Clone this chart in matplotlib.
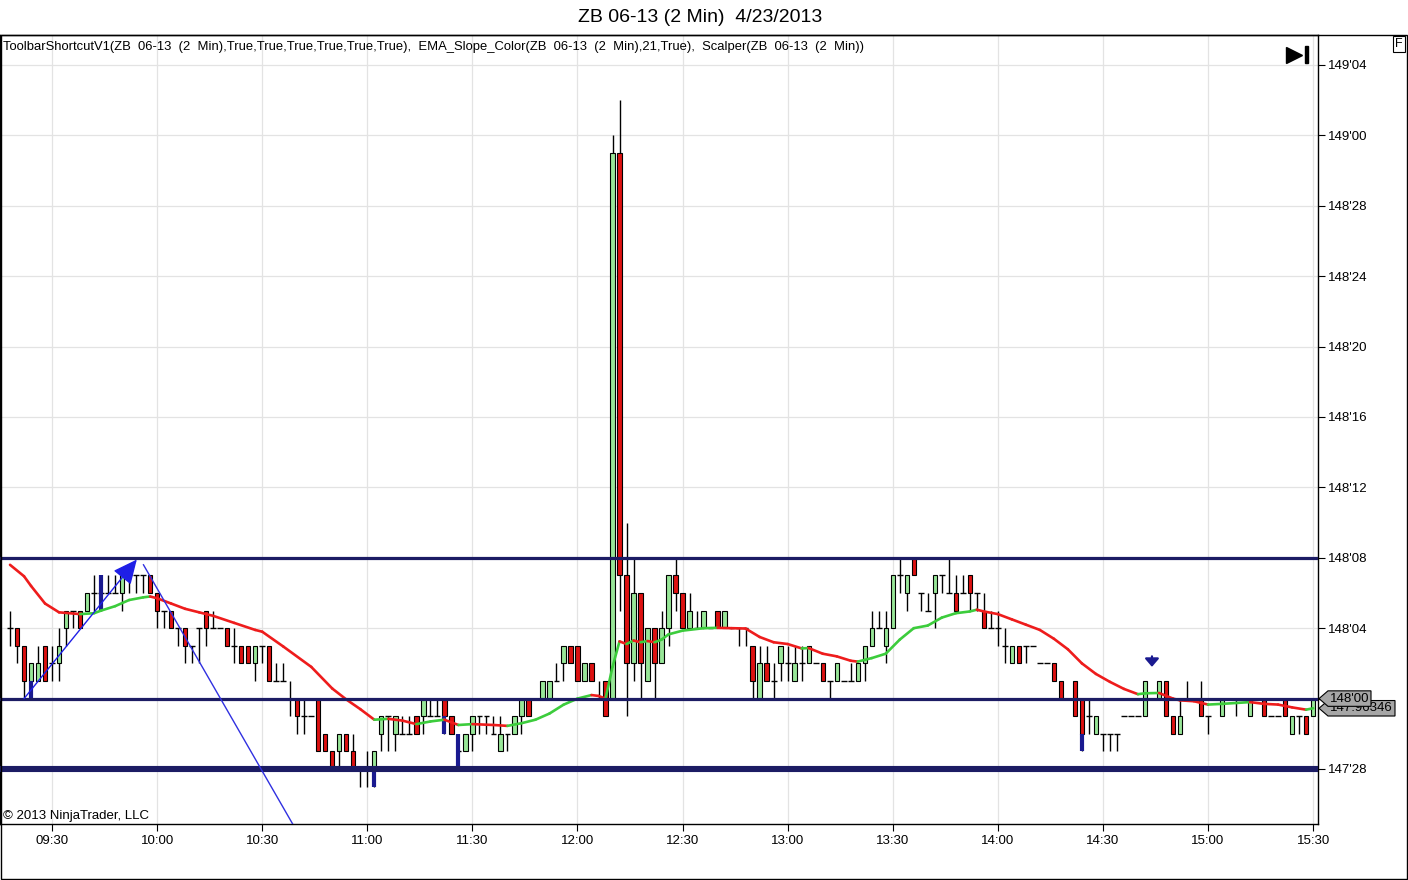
import matplotlib
matplotlib.use("Agg")
import matplotlib.pyplot as plt
from matplotlib.patches import Rectangle, Polygon
from matplotlib.transforms import blended_transform_factory
import numpy as np

plt.rcParams['font.family'] = ['Liberation Sans', 'DejaVu Sans']

# prices are in 32nds above 147'00  (32 -> 148'00)
opens = [36, 36, 35, 33, 33, 35, 34, 34, 36, 37, 37, 37, 38, 38, 38, 38, 38, 39, 39, 39,
         39, 38, 37, 37, 36, 36, 35, 36, 37, 36, 36, 36, 35, 35, 35, 34, 35, 35, 33, 33,
         32, 32, 31, 31, 32, 30, 29, 29, 30, 29, 28, 28, 28, 30, 31, 30, 30, 30, 31, 31,
         31, 31, 32, 31, 29, 29, 30, 31, 31, 30, 29, 30, 30, 31, 32, 32, 32, 32, 33, 34,
         35, 35, 33, 34, 32, 33, 32, 63, 39, 34, 38, 33, 36, 34, 36, 39, 38, 36, 36, 36,
         36, 37, 36, 36, 36, 36, 35, 32, 34, 33, 34, 34, 33, 34, 34, 34, 34, 33, 33, 33,
         33, 33, 34, 35, 36, 35, 36, 39, 38, 40, 38, 37, 38, 39, 38, 38, 38, 39, 38, 37,
         36, 36, 35, 34, 35, 35, 35, 34, 34, 34, 33, 32, 33, 32, 31, 30, 30, 30, 30, 31,
         31, 31, 31, 32, 32, 33, 31, 30, 32, 32, 32, 31, 32, 31, 32, 32, 32, 31, 32, 32,
         31, 31, 32, 30, 31, 31, 31]
highs = [37, 36, 35, 34, 35, 35, 35, 36, 37, 37, 37, 38, 39, 39, 39, 39, 39, 39, 39, 39,
         39, 38, 37, 37, 36, 36, 35, 36, 37, 37, 36, 36, 36, 35, 35, 35, 35, 35, 34, 34,
         33, 32, 32, 31, 32, 30, 29, 30, 30, 30, 28, 29, 29, 31, 31, 31, 31, 31, 31, 32,
         32, 32, 32, 31, 30, 30, 31, 31, 31, 31, 31, 30, 31, 32, 32, 32, 33, 33, 34, 35,
         35, 35, 34, 34, 33, 33, 64, 66, 42, 40, 38, 36, 36, 37, 39, 40, 38, 38, 37, 37,
         36, 37, 37, 36, 36, 36, 35, 35, 35, 34, 35, 35, 35, 35, 35, 34, 34, 33, 34, 33,
         34, 34, 35, 37, 37, 37, 39, 40, 39, 40, 38, 38, 39, 39, 40, 39, 39, 39, 38, 38,
         37, 37, 36, 35, 35, 35, 35, 34, 34, 34, 33, 32, 33, 32, 32, 31, 30, 30, 30, 31,
         31, 31, 33, 32, 33, 33, 31, 32, 33, 32, 33, 31, 32, 32, 32, 32, 32, 32, 32, 31,
         31, 31, 32, 31, 31, 31, 32]
lows = [35, 34, 32, 32, 33, 33, 33, 33, 35, 36, 36, 37, 37, 37, 38, 38, 37, 38, 38, 38,
        38, 36, 36, 36, 35, 34, 34, 34, 35, 36, 36, 35, 34, 34, 34, 33, 34, 33, 33, 33,
        31, 30, 30, 31, 29, 29, 28, 28, 29, 28, 27, 27, 27, 29, 29, 29, 30, 30, 30, 30,
        31, 31, 30, 30, 28, 29, 29, 30, 30, 30, 29, 29, 30, 30, 31, 32, 32, 32, 33, 33,
        34, 33, 33, 33, 32, 31, 32, 37, 31, 33, 32, 33, 32, 34, 35, 37, 36, 36, 36, 36,
        36, 36, 36, 36, 35, 35, 32, 32, 33, 32, 33, 33, 33, 33, 34, 34, 33, 32, 33, 33,
        33, 33, 33, 35, 36, 34, 36, 38, 37, 39, 37, 37, 36, 38, 38, 37, 38, 37, 37, 36,
        36, 35, 34, 34, 34, 34, 35, 34, 34, 33, 32, 32, 31, 29, 30, 30, 29, 29, 29, 31,
        31, 31, 31, 32, 32, 31, 30, 30, 32, 32, 31, 30, 32, 31, 32, 31, 32, 31, 32, 31,
        31, 31, 31, 30, 30, 30, 31]
closes = [36, 35, 33, 34, 34, 33, 34, 35, 37, 37, 36, 38, 38, 38, 38, 38, 39, 39, 39, 39,
          38, 37, 37, 36, 36, 35, 35, 36, 36, 36, 36, 35, 35, 34, 34, 35, 35, 33, 33, 33,
          32, 31, 31, 31, 29, 29, 28, 30, 29, 28, 28, 28, 29, 31, 31, 31, 30, 30, 30, 32,
          31, 31, 31, 30, 29, 30, 31, 31, 31, 30, 30, 30, 31, 32, 31, 32, 33, 33, 33, 35,
          34, 33, 34, 33, 32, 31, 63, 39, 34, 38, 34, 36, 34, 36, 39, 38, 36, 37, 36, 37,
          36, 36, 37, 36, 36, 36, 33, 34, 33, 33, 35, 34, 34, 34, 35, 34, 33, 33, 34, 33,
          33, 34, 35, 36, 36, 36, 39, 39, 39, 39, 38, 37, 39, 39, 38, 37, 38, 38, 38, 36,
          36, 36, 35, 35, 34, 35, 35, 34, 34, 33, 32, 32, 31, 30, 31, 31, 30, 30, 30, 31,
          31, 31, 33, 32, 33, 31, 30, 31, 32, 32, 31, 31, 32, 32, 32, 32, 32, 32, 32, 31,
          31, 31, 31, 31, 31, 30, 32]

# scalper highlighted bar segments (bar index, low, high)
scalper_bars = [3, 13, 52, 62, 64, 153]
scalper_lo = [32, 37, 27, 30, 28, 29]
scalper_hi = [33, 39, 28, 31, 30, 30]

# EMA(21) at bar indices
ema_idx = [0, 2, 3, 5, 7, 10, 12, 13, 15, 17, 19, 20, 21, 23, 25, 27, 29, 32, 35, 36,
           39, 43, 46, 48, 50, 52, 54, 56, 58, 60, 62, 64, 66, 69, 71, 73, 75, 77, 79, 81,
           83, 84, 85, 86, 87, 88, 89, 90, 91, 92, 93, 94, 96, 99, 101, 103, 105, 107, 109, 111,
           113, 114, 116, 118, 120, 121, 123, 125, 127, 129, 131, 133, 135, 137, 138, 139, 141, 143, 145, 147,
           149, 151, 153, 155, 157, 159, 161, 162, 164, 166, 167, 169, 171, 173, 175, 177, 179, 181, 183, 185,
           186]
ema_val = [39.6, 38.95, 38.4, 37.4, 36.9, 36.8, 36.85, 37.0, 37.25, 37.6, 37.75, 37.8, 37.7, 37.4, 37.1, 36.9, 36.7, 36.3, 35.9, 35.8,
           34.96, 33.8, 32.57, 31.95, 31.4, 30.8, 30.85, 30.75, 30.55, 30.7, 30.8, 30.5, 30.55, 30.5, 30.45, 30.6, 30.8, 31.15, 31.65, 32.0,
           32.2, 32.15, 32.0, 33.8, 35.25, 35.1, 35.3, 35.2, 35.27, 35.2, 35.35, 35.65, 35.86, 36.0, 36.02, 36.0, 35.98, 35.5, 35.2, 35.1,
           34.85, 34.87, 34.55, 34.4, 34.15, 34.1, 34.3, 34.55, 35.35, 36.0, 36.15, 36.6, 36.85, 36.95, 37.05, 36.95, 36.8, 36.5, 36.2, 35.9,
           35.4, 34.8, 34.0, 33.4, 32.95, 32.55, 32.25, 32.3, 32.32, 32.0, 31.9, 31.85, 31.66, 31.7, 31.75, 31.8, 31.7, 31.66, 31.5, 31.37,
           31.45]

levels = [40, 32, 28]
level_widths = [2.3, 2.3, 4.4]

tick_prices = [28, 32, 36, 40, 44, 48, 52, 56, 60, 64, 68]
time_labels = ["09:30", "10:00", "10:30", "11:00", "11:30", "12:00", "12:30",
               "13:00", "13:30", "14:00", "14:30", "15:00", "15:30"]
time_bars = [6, 21, 36, 51, 66, 81, 96, 111, 126, 141, 156, 171, 186]

# drawn trend lines (bar index, price)
trend1 = [(2.0, 32.0), (18.1, 39.9)]
trend2 = [(19.05, 39.6), (40.6, 24.7)]
signal_arrow = (163, 34.1)

# right side price tags: label, price, right edge (px)
tag_labels = ["147.96346", "148'00"]
tag_prices = [ema_val[-1], 32]
tag_right = [1395, 1371]


def fmt_price(v):
    return f"{147 + v // 32}'{v % 32:02d}"


opens = np.array(opens)
highs = np.array(highs)
lows = np.array(lows)
closes = np.array(closes)
x = np.arange(len(opens))

W, H = 1408, 880
fig = plt.figure(figsize=(W / 100, H / 100), dpi=100)
ax = fig.add_axes([0, 56 / H, 1318 / W, 789 / H])

ax.set_xlim(-1.43, 186.7)
ax.set_ylim(24.875, 69.7)

# grid
ax.set_xticks(time_bars)
ax.set_xticklabels(time_labels)
ax.set_yticks(tick_prices)
# 148'00 label sits under its price tag
ax.set_yticklabels(['' if p == 32 else fmt_price(p) for p in tick_prices])
ax.grid(True, color='#e3e3e3', linewidth=0.9, zorder=0)
ax.set_axisbelow(True)
ax.yaxis.tick_right()
ax.tick_params(axis='both', direction='out', length=5, labelsize=9.5, pad=2, colors='black')
ax.tick_params(axis='x', pad=3)

# candles
w = 0.62
up = closes > opens
dn = closes < opens
eq = closes == opens
ax.vlines(x, lows, highs, color='black', linewidth=1.0, zorder=2)
ax.bar(x[up], (closes - opens)[up], bottom=opens[up], width=w,
       color='#98e698', edgecolor='black', linewidth=0.8, zorder=3)
ax.bar(x[dn], (opens - closes)[dn], bottom=closes[dn], width=w,
       color='#dd1111', edgecolor='black', linewidth=0.8, zorder=3)
ax.hlines(opens[eq], x[eq] - w / 2 - 0.1, x[eq] + w / 2 + 0.1, color='black', linewidth=1.0, zorder=3)

ax.vlines(scalper_bars, scalper_lo, scalper_hi, color='#1a1a90', linewidth=3, zorder=4)

# EMA slope colored
for i in range(len(ema_idx) - 1):
    c = '#3ccc3c' if ema_val[i + 1] >= ema_val[i] else '#ee1c1c'
    ax.plot(ema_idx[i:i + 2], ema_val[i:i + 2], color=c, linewidth=1.9,
            solid_capstyle='round', zorder=5)

# level lines
for lv, lw in zip(levels, level_widths):
    ax.axhline(lv, color='#1c1c64', linewidth=lw, zorder=6)

# trend lines
ax.annotate('', xy=trend1[1], xytext=trend1[0],
            arrowprops=dict(arrowstyle='-|>,head_length=0.75,head_width=0.35', color='#1f1fe6',
                            lw=1.0, shrinkA=0, shrinkB=0, mutation_scale=20), zorder=7)
ax.plot([trend2[0][0], trend2[1][0]], [trend2[0][1], trend2[1][1]], color='#3030e0',
        linewidth=1.0, zorder=7)
ax.annotate('', xy=(signal_arrow[0], signal_arrow[1] - 0.3), xytext=(signal_arrow[0], signal_arrow[1] + 0.3),
            arrowprops=dict(arrowstyle='-|>,head_length=0.35,head_width=0.3', color='#1a1a90',
                            lw=1.6, shrinkA=0, shrinkB=0, mutation_scale=14), zorder=7)

for s in ax.spines.values():
    s.set_color('black')
    s.set_linewidth(1.0)

# texts
fig.text(0.497, 1 - 17 / H, "ZB 06-13 (2 Min)  4/23/2013", ha='center', va='center', fontsize=14)
ax.text(3 / 1318, 1 - 12 / 789,
        "ToolbarShortcutV1(ZB  06-13  (2  Min),True,True,True,True,True,True),  "
        "EMA_Slope_Color(ZB  06-13  (2  Min),21,True),  Scalper(ZB  06-13  (2  Min))",
        transform=ax.transAxes, ha='left', va='center', fontsize=9.35)
ax.text(3 / 1318, 8 / 789, "© 2013 NinjaTrader, LLC", transform=ax.transAxes,
        ha='left', va='center', fontsize=9.5)

# play-to-end icon
ax.plot([1294 / 1318], [1 - 20 / 789], marker='>', color='black', markersize=11,
        transform=ax.transAxes, clip_on=False, zorder=8)
ax.add_patch(Rectangle((1305 / 1318, 1 - 28 / 789), 3 / 1318, 17 / 789,
                       transform=ax.transAxes, color='black', zorder=8))
fig.text(1399 / W, 1 - 44 / H, "F", ha='center', va='center', fontsize=9,
         bbox=dict(boxstyle='square,pad=0.15', fc='white', ec='black', lw=0.8))

# price tags on the right (x in figure pixels, y in price)
tag_tr = blended_transform_factory(fig.transFigure, ax.transData)
half = 0.44
for j, (lab, p, xr) in enumerate(zip(tag_labels, tag_prices, tag_right)):
    pts = [(1319 / W, p), (1328 / W, p + half), (xr / W, p + half),
           (xr / W, p - half), (1328 / W, p - half)]
    fig.add_artist(Polygon(pts, closed=True, transform=tag_tr, fc='#a6a6a6', ec='black',
                           lw=0.8, zorder=20 + 2 * j, clip_on=False))
    fig.text(1330 / W, p, lab, transform=tag_tr, ha='left', va='center', fontsize=9.5,
             zorder=21 + 2 * j)

# outer frame
fig.add_artist(Rectangle((0.5 / W, 1 / H), 1406 / W, (H - 36) / H,
                         transform=fig.transFigure, fill=False, ec='black', lw=1.0))

fig.savefig("out.png", dpi=100)
